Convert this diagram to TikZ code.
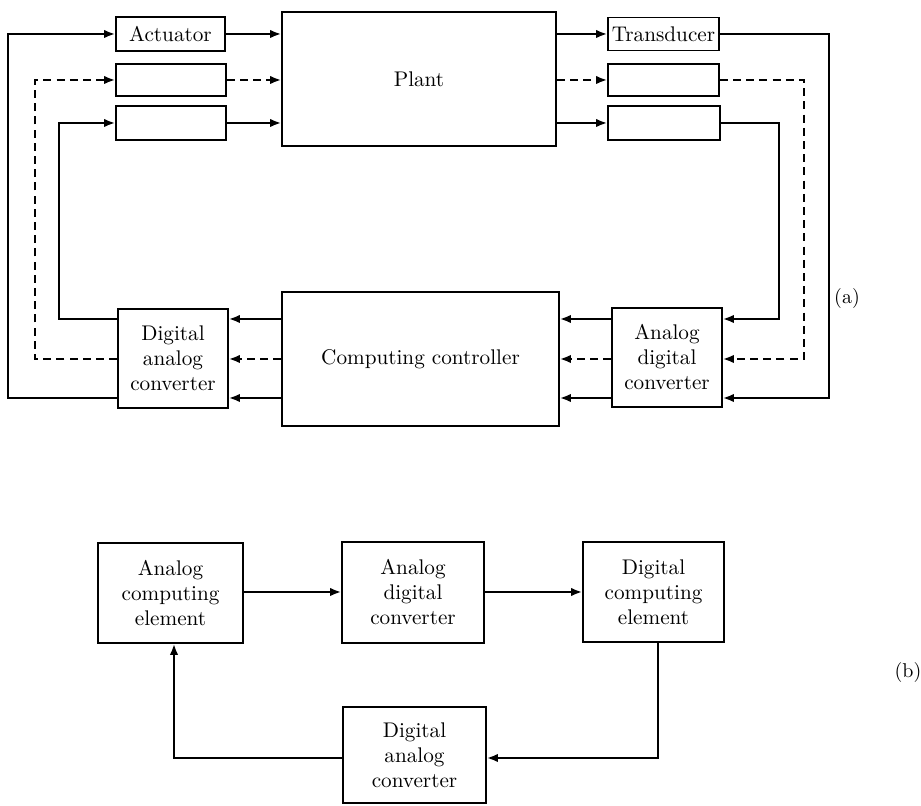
\documentclass[tikz,border=0pt]{standalone}
\usetikzlibrary{arrows.meta}
\begin{document}
\begin{tikzpicture}[x=0.5pt,y=-0.5pt,
  box/.style={draw,line width=0.85pt,align=center,inner sep=0pt,font=\fontsize{10.6}{12.5}\selectfont},
  arr/.style={line width=1pt,-{Latex[length=5.5pt,width=4.2pt]}},
  ln/.style={line width=1pt},
  dsh/.style={dash pattern=on 4pt off 2.6pt},
  lbl/.style={font=\fontsize{10}{12}\selectfont,inner sep=0pt}]
\useasboundingbox (0,0) rectangle (921,806);
% (a) nodes
\node[box,minimum width=54.5pt,minimum height=17pt] (act) at (170.5,34) {Actuator};
\node[box,minimum width=55pt,minimum height=16pt] (l2) at (171,80) {};
\node[box,minimum width=55pt,minimum height=17pt] (l3) at (171,123) {};
\node[box,minimum width=137pt,minimum height=67pt] (plant) at (419,79) {Plant};
\node[box,minimum width=55.5pt,minimum height=16.5pt] (trans) at (663.5,34) {Transducer};
\node[box,minimum width=55.5pt,minimum height=16pt] (r2) at (663.5,80) {};
\node[box,minimum width=56pt,minimum height=17pt] (r3) at (664,123) {};
\node[box,minimum width=55pt,minimum height=49.5pt] (dac) at (173,358.5) {Digital\\analog\\converter};
\node[box,minimum width=138.5pt,minimum height=67pt] (ctrl) at (420.5,359) {Computing controller};
\node[box,minimum width=55pt,minimum height=49.5pt] (adc) at (667,357.5) {Analog\\digital\\converter};
\coordinate (yA1) at (0,319);
\coordinate (yA2) at (0,359);
\coordinate (yA3) at (0,398);
% left loops
\draw[arr] (dac.west |- yA3) -- (8,398) -- (8,34) -- (act.west);
\draw[arr,dsh] (dac.west |- yA2) -- (35,359) -- (35,80) -- (l2.west);
\draw[arr] (dac.west |- yA1) -- (59,319) -- (59,123) -- (l3.west);
% into plant
\draw[arr] (act.east) -- (act.east -| plant.west);
\draw[arr,dsh] (l2.east) -- (l2.east -| plant.west);
\draw[arr] (l3.east) -- (l3.east -| plant.west);
% out of plant
\draw[arr] (trans.west -| plant.east) -- (trans.west);
\draw[arr,dsh] (r2.west -| plant.east) -- (r2.west);
\draw[arr] (r3.west -| plant.east) -- (r3.west);
% right loops
\draw[arr] (trans.east) -- (829,34) -- (829,398) -- (adc.east |- yA3);
\draw[arr,dsh] (r2.east) -- (804,80) -- (804,359) -- (adc.east |- yA2);
\draw[arr] (r3.east) -- (779,123) -- (779,319) -- (adc.east |- yA1);
% adc -> controller
\draw[arr] (adc.west |- yA1) -- (ctrl.east |- yA1);
\draw[arr,dsh] (adc.west |- yA2) -- (ctrl.east |- yA2);
\draw[arr] (adc.west |- yA3) -- (ctrl.east |- yA3);
% controller -> dac
\draw[arr] (ctrl.west |- yA1) -- (dac.east |- yA1);
\draw[arr,dsh] (ctrl.west |- yA2) -- (dac.east |- yA2);
\draw[arr] (ctrl.west |- yA3) -- (dac.east |- yA3);
\node[lbl] (la) at (847,299) {(a)};
% (b)
\node[box,minimum width=72.5pt,minimum height=50pt] (ace) at (170.5,593) {Analog\\computing\\element};
\node[box,minimum width=71pt,minimum height=50.5pt] (adcb) at (413,592.5) {Analog\\digital\\converter};
\node[box,minimum width=70.5pt,minimum height=50pt] (dce) at (653.5,592) {Digital\\computing\\element};
\node[box,minimum width=71.5pt,minimum height=48pt] (dacb) at (414.5,755) {Digital\\analog\\converter};
\coordinate (yB) at (0,592);
\coordinate (yB2) at (0,758);
\coordinate (xB1) at (174,0);
\coordinate (xB2) at (658,0);
\draw[arr] (ace.east |- yB) -- (adcb.west |- yB);
\draw[arr] (adcb.east |- yB) -- (dce.west |- yB);
\draw[arr] (dce.south -| xB2) |- (dacb.east |- yB2);
\draw[arr] (dacb.west |- yB2) -| (ace.south -| xB1);
\node[lbl] (lb) at (908,672) {(b)};
\end{tikzpicture}
\end{document}
